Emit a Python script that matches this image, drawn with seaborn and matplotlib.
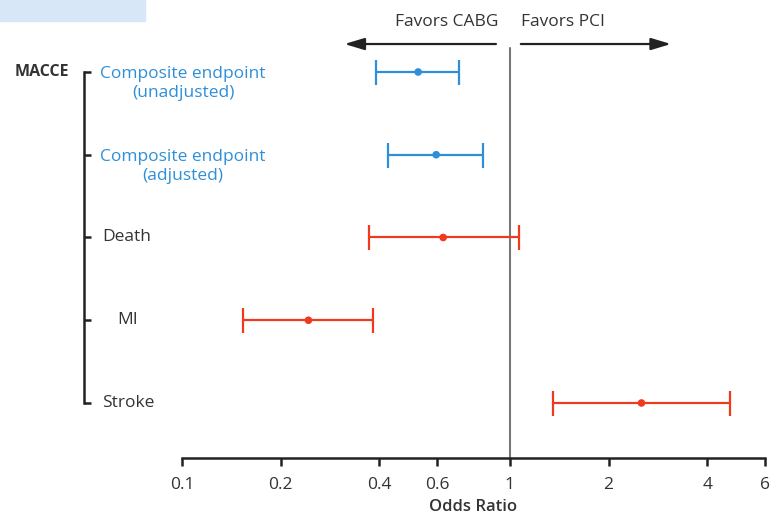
import matplotlib.pyplot as plt
import matplotlib.transforms as mtransforms
import pandas as pd
import seaborn as sns

# odds ratios
outcomes = ["Composite endpoint\n(unadjusted)", "Composite endpoint\n(adjusted)",
            "Death", "MI", "Stroke"]
odds = [0.525, 0.596, 0.626, 0.243, 2.52]
lower = [0.39, 0.426, 0.373, 0.154, 1.35]
upper = [0.70, 0.828, 1.065, 0.383, 4.70]
group = ["composite", "composite", "single", "single", "single"]
ticks = [0.1, 0.2, 0.4, 0.6, 1, 2, 4, 6]

df = pd.DataFrame({"outcome": outcomes, "or": odds, "lo": lower, "hi": upper,
                   "group": group})
df["row"] = range(len(df))

blue = "#2e8fd8"
red = "#f03a1e"
palette = {"composite": blue, "single": red}

sns.set_theme(style="white")
plt.rcParams["font.family"] = ["Open Sans", "DejaVu Sans"]

fig = plt.figure(figsize=(7.81, 5.20), dpi=100)
ax = fig.add_axes([182 / 781, 1 - 458 / 520, (765 - 182) / 781, 458 / 520])

for _, r in df.iterrows():
    ax.errorbar(r["or"], r["row"], xerr=[[r["or"] - r["lo"]], [r["hi"] - r["or"]]],
                fmt="none", ecolor=palette[r["group"]], elinewidth=1.6,
                capsize=9, capthick=1.6, zorder=3)
sns.scatterplot(data=df, x="or", y="row", hue="group", palette=palette,
                s=30, edgecolor="none", legend=False, ax=ax, zorder=4)

ax.set_xscale("log")
ax.set_xlim(0.1, 6)
ax.set_ylim(4.665, -0.870)
ax.set_xticks(ticks)
ax.set_xticklabels([f"{t:g}" for t in ticks])
ax.minorticks_off()
ax.set_yticks([])
ax.set_ylabel("")
ax.set_xlabel("Odds Ratio", fontsize=12, fontweight="semibold", color="#333333",
              labelpad=4)
ax.tick_params(axis="x", direction="out", length=6, width=1.8, color="#222222",
               labelsize=12.5, labelcolor="#333333", pad=8, bottom=True)
for s in ["top", "right", "left"]:
    ax.spines[s].set_visible(False)
ax.spines["bottom"].set_linewidth(1.8)
ax.spines["bottom"].set_color("#222222")

ax.axvline(1, ymin=0, ymax=1 - 48 / 458, color="#777777", lw=1.5, zorder=2)

# direction arrows
arrow_y = -0.338
style = dict(arrowstyle="-|>,head_length=1.0,head_width=0.3", color="#222222",
             lw=1.6, shrinkA=0, shrinkB=0)
ax.annotate("", xy=(0.313, arrow_y), xytext=(0.907, arrow_y),
            annotation_clip=False, arrowprops=style)
ax.annotate("", xy=(3.1, arrow_y), xytext=(1.08, arrow_y),
            annotation_clip=False, arrowprops=style)
ax.text(0.92, -0.61, "Favors CABG", ha="right", va="center", fontsize=12.5,
        color="#333333")
ax.text(1.08, -0.61, "Favors PCI", ha="left", va="center", fontsize=12.5,
        color="#333333")

# left-hand labels with bracket
trans = mtransforms.blended_transform_factory(fig.transFigure, ax.transData)
bx = 84 / 781
ax.plot([bx, bx], [0, 4], transform=trans, color="#222222", lw=1.8,
        clip_on=False, solid_capstyle="projecting")
for i in range(len(df)):
    ax.plot([bx, bx + 7 / 781], [i, i], transform=trans, color="#222222", lw=1.8,
            clip_on=False, solid_capstyle="butt")
ax.text(15 / 781, 0, "MACCE", transform=trans, ha="left", va="center",
        fontsize=11.5, fontweight="bold", color="#333333")
label_x = [183, 183, 102, 117, 102]
label_ha = ["center", "center", "left", "left", "left"]
for i, r in df.iterrows():
    c = blue if r["group"] == "composite" else "#333333"
    dy = 0.14 if "\n" in r["outcome"] else 0
    ax.text(label_x[i] / 781, r["row"] + dy, r["outcome"], transform=trans,
            ha=label_ha[i], va="center", multialignment="center", fontsize=12.5,
            color=c, linespacing=1.3)

# light banner at top-left
fig.patches.append(plt.Rectangle((0, 1 - 21 / 520), 145 / 781, 21 / 520,
                                 transform=fig.transFigure, color="#d7e7f8",
                                 zorder=0))

fig.savefig("out.png", dpi=100)
